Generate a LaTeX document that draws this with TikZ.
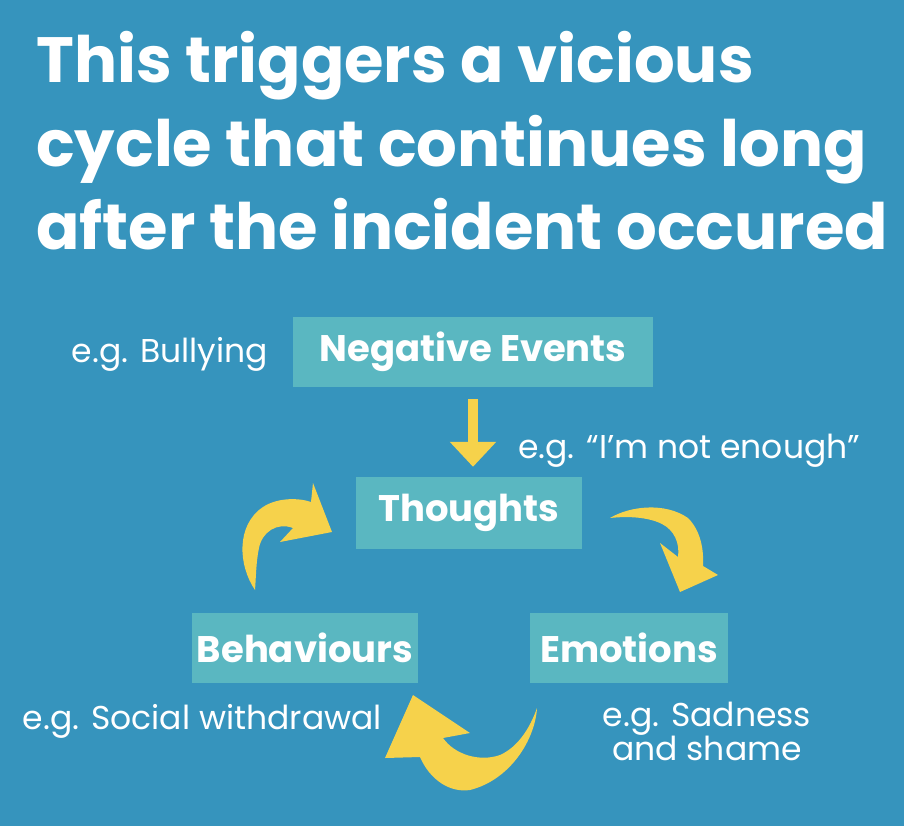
\documentclass[tikz,border=0pt]{standalone}
\usepackage{fontspec}
\setmainfont{Poppins}
\usetikzlibrary{arrows.meta}
\definecolor{bgblue}{HTML}{3694BD}
\definecolor{boxteal}{HTML}{5AB7C1}
\definecolor{arryellow}{HTML}{F6D24B}
\tikzset{
  box/.style={fill=boxteal, text=white, inner sep=0pt, minimum height=70pt, font=\bfseries\fontsize{37}{40}\selectfont},
  lbl/.style={text=white, inner sep=0pt, font=\fontsize{33}{34}\selectfont},
  headline/.style={text=white, inner sep=0pt, anchor=base west, font=\bfseries\fontsize{64}{80}\selectfont},
  curl/.style={fill=arryellow},
}

\begin{document}
\begin{tikzpicture}[x=1pt, y=-1pt]
  % background
  \fill[bgblue] (0,0) rectangle (904,826);
  \useasboundingbox (0,0) rectangle (904,826);
  % heading
  \node[headline] (head1) at (36,83) {This triggers a vicious};
  \node[headline] (head2) at (36,167) {cycle that continues long};
  \node[headline] (head3) at (36,250) {after the incident occured};
  % boxes
  \node[box, minimum width=360pt] (neg) at (473,352) {Negative Events};
  \node[box, minimum width=226pt, minimum height=72pt] (tho) at (469,513) {Thoughts};
  \node[box, minimum width=226pt] (beh) at (305,648) {Behaviours};
  \node[box, minimum width=198pt] (emo) at (629,648) {Emotions};
  % examples
  \node[lbl, anchor=base east] (bully) at (268,362) {e.g. Bullying};
  \node[lbl, anchor=base west] (enough) at (518,458) {e.g. “I’m not enough”};
  \node[lbl, anchor=base east] (withdraw) at (382,729) {e.g. Social withdrawal};
  \node[lbl, align=center] (sad) at (707,731) {e.g. Sadness\\and shame};
  % down arrow
  \draw[arryellow, line width=10pt, -{Triangle[width=45pt, length=25pt]}]
    ([yshift=-12pt]neg.south) -- ([yshift=10pt]neg.south |- tho.north);
  % behaviours -> thoughts
  \fill[curl] (255,590) .. controls (238,565) and (236,525) .. (263,507)
    .. controls (278,497) and (300,498) .. (311,502)
    -- (313,483) -- (332,532) -- (280,542) -- (293,528)
    .. controls (277,522) and (262,532) .. (259,548)
    .. controls (256,562) and (256,578) .. (255,590) -- cycle;
  % thoughts -> emotions
  \fill[curl] (610,518) .. controls (630,506) and (665,502) .. (688,518)
    .. controls (700,530) and (704,548) .. (703,566)
    -- (718,575) -- (680,592) -- (660,543) -- (678,557)
    .. controls (680,543) and (674,530) .. (662,524)
    .. controls (648,517) and (628,516) .. (610,518) -- cycle;
  % emotions -> behaviours
  \fill[curl] (537,708) .. controls (535,740) and (510,780) .. (470,790)
    .. controls (450,793) and (430,780) .. (420,757)
    -- (385,758) -- (413,695) -- (470,733) -- (443,738)
    .. controls (455,755) and (480,762) .. (500,755)
    .. controls (518,747) and (530,728) .. (537,708) -- cycle;
\end{tikzpicture}
\end{document}
